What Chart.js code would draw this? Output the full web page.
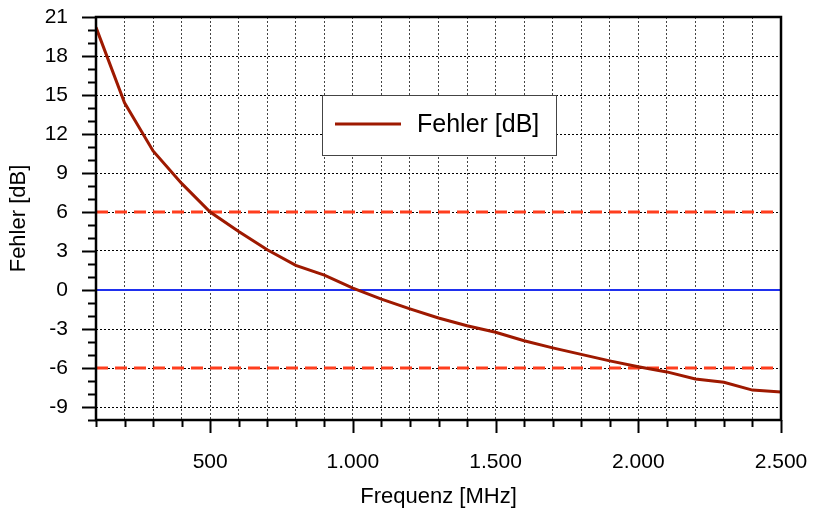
<!DOCTYPE html>
<html>
<head>
<meta charset="utf-8">
<script src="https://cdn.jsdelivr.net/npm/chart.js@4/dist/chart.umd.min.js"></script>
<style>
  html, body { margin: 0; padding: 0; background: #ffffff; }
  #wrap { width: 816px; height: 510px; }
</style>
</head>
<body>
<div id="wrap"><canvas id="chart" width="816" height="510"></canvas></div>
<script>
// Measured error over frequency
const frequencies = [100, 200, 300, 400, 500, 600, 700, 800, 900, 1000, 1100, 1200, 1300,
                     1400, 1500, 1600, 1700, 1800, 1900, 2000, 2100, 2200, 2300, 2400, 2500];
const errorDb = [20.2, 14.4, 10.7, 8.2, 6.0, 4.5, 3.1, 1.9, 1.15, 0.15, -0.7, -1.45, -2.15,
                 -2.75, -3.25, -3.9, -4.45, -4.95, -5.45, -5.9, -6.3, -6.85, -7.1, -7.7, -7.85];
// Reference levels
const limitUpper = [6, 6];
const limitLower = [-6, -6];
const zeroLine = [0, 0];
const rangeEnds = [100, 2500];
// Axis labels
const xTickLabels = [500, 1000, 1500, 2000, 2500];
const yTickLabels = [-9, -6, -3, 0, 3, 6, 9, 12, 15, 18, 21];
const xMin = 100, xMax = 2500, xStep = 100;
const yMin = -10, yMax = 21, yMinorStep = 1;

const FONT = "'Liberation Sans', Arial, Helvetica, sans-serif";
const curveColor = '#9e1900';

function fmtDe(v) {
  if (v >= 1000) return Math.floor(v / 1000) + '.' + String(v % 1000).padStart(3, '0');
  return String(v);
}

const xGridValues = [];
for (let v = xMin; v <= xMax; v += xStep) xGridValues.push(v);
const yMinorValues = [];
for (let v = yMin; v <= yMax; v += yMinorStep) yMinorValues.push(v);

const pairs = (xs, ys) => xs.map((x, i) => ({ x, y: ys[i] }));

// keep the plot area fixed: no extra room for overhanging tick labels
function noOverhang(s) {
  s.paddingTop = 0; s.paddingBottom = 0; s.paddingLeft = 0; s.paddingRight = 0;
}

// Frame, tick marks and legend box
const framePlugin = {
  id: 'frame',
  beforeDraw(chart) {
    const ctx = chart.ctx;
    ctx.save();
    ctx.fillStyle = '#ffffff';
    ctx.fillRect(0, 0, chart.width, chart.height);
    ctx.restore();
  },
  afterDraw(chart) {
    const ctx = chart.ctx;
    const a = chart.chartArea;
    const xs = chart.scales.x, ys = chart.scales.y;
    ctx.save();
    ctx.strokeStyle = '#000';
    ctx.lineWidth = 2;
    // y tick marks
    yMinorValues.forEach(v => {
      const py = Math.round(ys.getPixelForValue(v)) + 0.5;
      const len = yTickLabels.includes(v) ? 14 : 8;
      ctx.beginPath();
      ctx.moveTo(a.left, py);
      ctx.lineTo(a.left - len, py);
      ctx.stroke();
    });
    // x tick marks
    xGridValues.forEach(v => {
      const px = Math.round(xs.getPixelForValue(v)) + 0.5;
      const len = xTickLabels.includes(v) ? 13 : 7;
      ctx.beginPath();
      ctx.moveTo(px, a.bottom);
      ctx.lineTo(px, a.bottom + len);
      ctx.stroke();
    });
    // plot frame
    ctx.lineWidth = 2.5;
    ctx.strokeRect(a.left, a.top, a.right - a.left, a.bottom - a.top);

    // legend
    const ds = chart.data.datasets[0];
    const bx = 322, by = 95, bw = 234, bh = 60;
    ctx.fillStyle = '#ffffff';
    ctx.fillRect(bx, by, bw, bh);
    ctx.lineWidth = 1;
    ctx.strokeStyle = '#444';
    ctx.strokeRect(bx + 0.5, by + 0.5, bw, bh);
    ctx.strokeStyle = ds.borderColor;
    ctx.lineWidth = 3;
    ctx.beginPath();
    ctx.moveTo(335, 124);
    ctx.lineTo(401, 124);
    ctx.stroke();
    ctx.fillStyle = '#000';
    ctx.font = '25px ' + FONT;
    ctx.textBaseline = 'middle';
    ctx.textAlign = 'left';
    ctx.fillText(ds.label, 417, 125);
    ctx.restore();
  }
};

new Chart(document.getElementById('chart'), {
  type: 'line',
  data: {
    datasets: [
      {
        label: 'Fehler [dB]',
        data: pairs(frequencies, errorDb),
        borderColor: curveColor,
        borderWidth: 3,
        pointRadius: 0,
        tension: 0,
        order: 0
      },
      {
        label: '0',
        data: pairs(rangeEnds, zeroLine),
        borderColor: '#1f30ee',
        borderWidth: 2,
        pointRadius: 0,
        order: 1
      },
      {
        label: '+6',
        data: pairs(rangeEnds, limitUpper),
        borderColor: '#ff3e1e',
        borderWidth: 3,
        borderDash: [12, 7],
        pointRadius: 0,
        order: 2
      },
      {
        label: '-6',
        data: pairs(rangeEnds, limitLower),
        borderColor: '#ff3e1e',
        borderWidth: 3,
        borderDash: [12, 7],
        pointRadius: 0,
        order: 2
      }
    ]
  },
  options: {
    responsive: false,
    animation: false,
    layout: { padding: { top: 17, right: 35, left: 0, bottom: 0 } },
    plugins: { legend: { display: false }, tooltip: { enabled: false } },
    scales: {
      x: {
        type: 'linear',
        min: xMin,
        max: xMax,
        afterBuildTicks: s => { s.ticks = xGridValues.map(v => ({ value: v })); },
        afterFit: s => { s.height = 90; noOverhang(s); },
        ticks: {
          autoSkip: false,
          maxRotation: 0,
          minRotation: 0,
          padding: 30,
          color: '#000',
          font: { family: FONT, size: 21 },
          callback: v => xTickLabels.includes(v) ? fmtDe(v) : ''
        },
        grid: { color: '#444', lineWidth: 1, drawTicks: false },
        border: { display: false, dash: [2, 2] },
        title: {
          display: true,
          text: 'Frequenz [MHz]',
          color: '#000',
          font: { family: FONT, size: 22 },
          padding: { top: 0, bottom: 0 }
        }
      },
      y: {
        type: 'linear',
        min: yMin,
        max: yMax,
        afterBuildTicks: s => { s.ticks = yTickLabels.map(v => ({ value: v })); },
        afterFit: s => { s.width = 96; noOverhang(s); },
        ticks: {
          autoSkip: false,
          padding: 28,
          color: '#000',
          font: { family: FONT, size: 21 },
          callback: v => String(v)
        },
        grid: { color: '#000', lineWidth: 1, drawTicks: false },
        border: { display: false, dash: [2, 2] },
        title: {
          display: true,
          text: 'Fehler [dB]',
          color: '#000',
          font: { family: FONT, size: 22 },
          padding: { top: 6, bottom: 0 }
        }
      }
    }
  },
  plugins: [framePlugin]
});
</script>
</body>
</html>
